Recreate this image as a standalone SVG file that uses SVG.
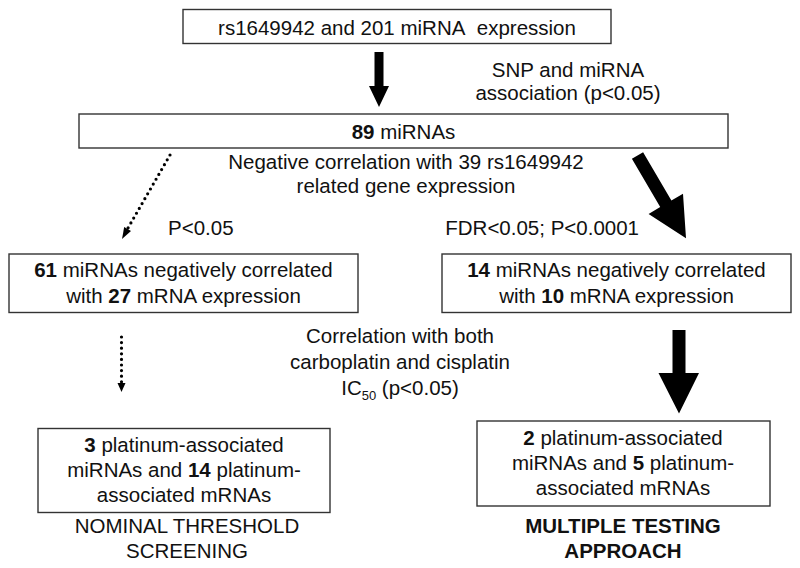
<svg xmlns="http://www.w3.org/2000/svg" width="800" height="568" viewBox="0 0 800 568">
<style>
text{font-family:"Liberation Sans",Arial,sans-serif;font-size:20.5px;fill:#111;text-anchor:middle}
.b{font-weight:bold}
.box{fill:#fff;stroke:#333;stroke-width:1.4}
.solid{fill:#000;stroke:none}
.dot{fill:none;stroke:#000;stroke-width:3.2;stroke-linecap:round;stroke-dasharray:0 5.6}
</style>
<rect width="800" height="568" fill="#fff"/>
<g id="n1"><rect class="box" x="183" y="9.5" width="428" height="34"/><text x="397" y="34.5">rs1649942 and 201 miRNA&#160; expression</text></g>
<g id="n2"><rect class="box" x="79" y="114" width="649" height="34"/><text x="403.5" y="139"><tspan class="b">89</tspan> miRNAs</text></g>
<g id="n3"><rect class="box" x="9" y="254" width="349" height="58.5"/><text x="183.5" y="277"><tspan class="b">61</tspan> miRNAs negatively correlated</text><text x="183.5" y="303">with <tspan class="b">27</tspan> mRNA expression</text></g>
<g id="n4"><rect class="box" x="442" y="254" width="349" height="58.5"/><text x="616.5" y="277"><tspan class="b">14</tspan> miRNAs negatively correlated</text><text x="616.5" y="303">with <tspan class="b">10</tspan> mRNA expression</text></g>
<g id="n5"><rect class="box" x="38" y="428.5" width="292" height="84"/><text x="184" y="452"><tspan class="b">3</tspan> platinum-associated</text><text x="184" y="477">miRNAs and <tspan class="b">14</tspan> platinum-</text><text x="184" y="502">associated mRNAs</text></g>
<g id="n6"><rect class="box" x="477" y="421" width="293" height="85"/><text x="623" y="445"><tspan class="b">2</tspan> platinum-associated</text><text x="623" y="470">miRNAs and <tspan class="b">5</tspan> platinum-</text><text x="623" y="495">associated mRNAs</text></g>
<g id="labels">
<text x="568" y="77">SNP and miRNA</text><text x="568" y="100">association (p&lt;0.05)</text>
<text x="406" y="169">Negative correlation with 39 rs1649942</text><text x="406" y="193">related gene expression</text>
<text x="168" y="235" style="text-anchor:start">P&lt;0.05</text>
<text x="639" y="235" style="text-anchor:end">FDR&lt;0.05; P&lt;0.0001</text>
<text x="400" y="343">Correlation with both</text><text x="400" y="369">carboplatin and cisplatin</text>
<text x="400" y="395">IC<tspan font-size="13" dy="5">50</tspan><tspan dy="-5"> (p&lt;0.05)</tspan></text>
<text x="187" y="533">NOMINAL THRESHOLD</text><text x="187" y="558">SCREENING</text>
<text class="b" x="623" y="533">MULTIPLE TESTING</text><text class="b" x="623" y="558">APPROACH</text>
</g>
<g id="connectors">
<polygon class="solid" points="374.5,52 383.5,52 383.5,86 389,86 379,107 369,86 374.5,86"/>
<line class="dot" x1="170" y1="155" x2="128" y2="228"/>
<polygon class="solid" points="131,231 122,239 124.2,227"/>
<polygon class="solid" points="631.9,158.8 643.1,152.2 671.4,200.5 683,193.7 686,238.3 648.6,213.9 660.2,207.1"/>
<line class="dot" x1="121.5" y1="337" x2="121.5" y2="382"/>
<polygon class="solid" points="117.5,383 125.5,383 121.5,392"/>
<polygon class="solid" points="672.5,330 685.5,330 685.5,373 699,373 679,413.5 658.5,373 672.5,373"/>
</g>
</svg>
